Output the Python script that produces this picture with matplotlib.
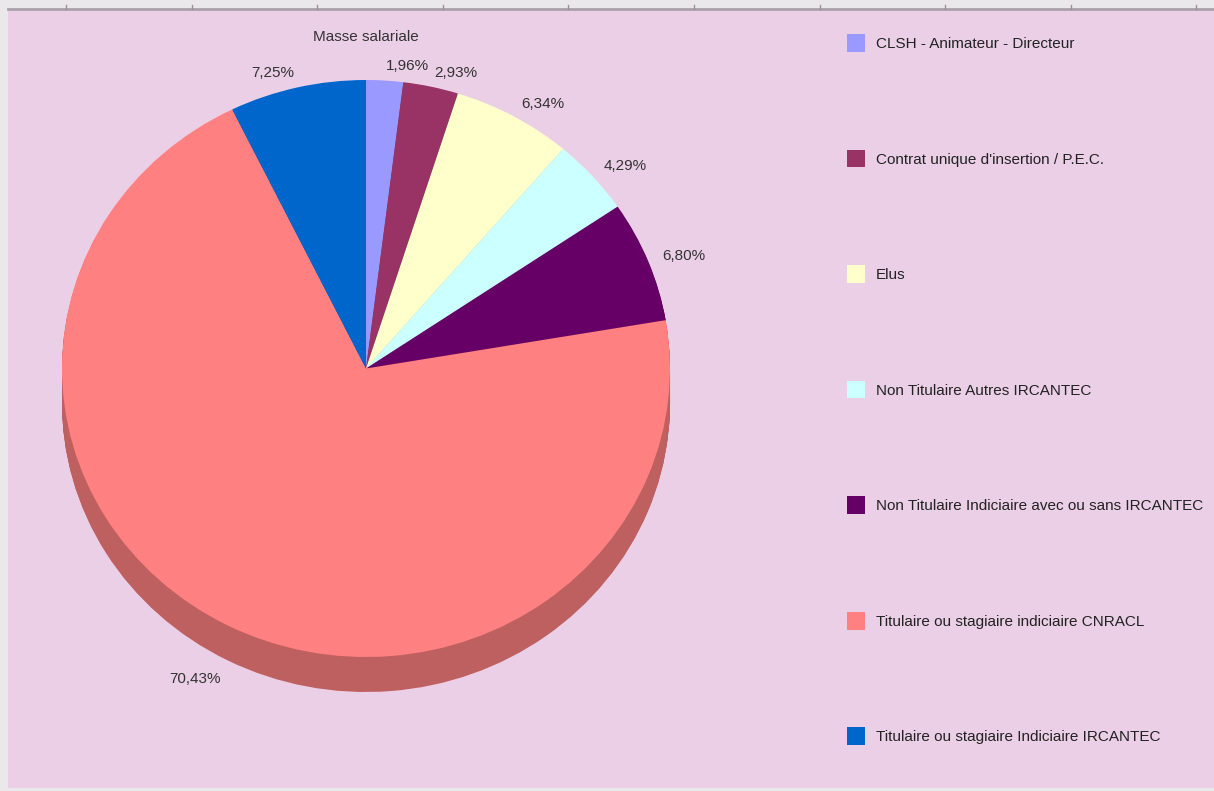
import numpy as np
import matplotlib
matplotlib.use("Agg")
import matplotlib.pyplot as plt
from matplotlib.colors import to_rgb
from matplotlib.patches import Rectangle

# data
TITLE = "Masse salariale"
categories = ["CLSH - Animateur - Directeur",
              "Contrat unique d'insertion / P.E.C.",
              "Elus",
              "Non Titulaire Autres IRCANTEC",
              "Non Titulaire Indiciaire avec ou sans IRCANTEC",
              "Titulaire ou stagiaire indiciaire CNRACL",
              "Titulaire ou stagiaire Indiciaire IRCANTEC"]
shares = [1.96, 2.93, 6.34, 4.29, 6.80, 70.43, 7.25]
pct_labels = ["1,96%", "2,93%", "6,34%", "4,29%", "6,80%", "70,43%", "7,25%"]
colors = ["#9999ff", "#993366", "#ffffcc", "#ccffff", "#660066", "#ff8080", "#0066cc"]

W, H = 1214, 791
BG = "#ebcfe6"
plt.rcParams['font.family'] = ['Liberation Sans', 'DejaVu Sans']

fig = plt.figure(figsize=(W / 100, H / 100), dpi=100, facecolor="#ebe8eb")

# background in pixel coords (y down)
bg = fig.add_axes([0, 0, 1, 1])
bg.set_xlim(0, W)
bg.set_ylim(H, 0)
bg.axis("off")
bg.add_patch(Rectangle((8, 10), W, H - 13, facecolor=BG, edgecolor="none"))
bg.plot([8, W], [9, 9], color="#aaa2aa", lw=2)
for xt in np.arange(66, W, 125.6):
    bg.plot([xt, xt], [5, 9], color="#9a929a", lw=1)

# pie geometry (pixels)
cx, cy = 366, 368.5
rx, ry = 304, 288.5
depth = 35
k = rx / ry  # y data units per pixel

ax = fig.add_axes([0, 0, 1, 1])
ax.patch.set_alpha(0)
dark = [tuple(c * 0.75 for c in to_rgb(col)) for col in colors]
center_y = (H - cy) * k

# 3D side: stacked shadow pies
for off in np.linspace(depth, 1, 35):
    ax.pie(shares, colors=dark, startangle=90, counterclock=False, radius=rx,
           center=(cx, center_y - off * k), wedgeprops=dict(linewidth=0))

wedges, texts = ax.pie(shares, colors=colors, startangle=90, counterclock=False,
                       radius=rx, center=(cx, center_y), labels=pct_labels,
                       labeldistance=1.05, wedgeprops=dict(linewidth=0),
                       textprops=dict(fontsize=11, color="#333333"))
for t in texts:
    x, y = t.get_position()
    t.set_ha("left" if x > cx else "right")
    if y < center_y:
        t.set_position((x, y - (depth + 6) * k))

ax.set_aspect("auto")
ax.set_xlim(0, W)
ax.set_ylim(0, H * k)
ax.axis("off")

fig.text(cx / W, 1 - 37 / H, TITLE, ha="center", va="center",
         fontsize=11, color="#333333")

ax.legend(wedges, categories, loc="upper left",
          bbox_to_anchor=(847 / W, 1 - 34 / H), bbox_transform=fig.transFigure,
          frameon=False, borderpad=0, borderaxespad=0,
          handlelength=1.18, handleheight=1.42, handletextpad=0.72,
          labelspacing=6.395, fontsize=11, labelcolor="#222222")

fig.savefig("out.png", dpi=100, facecolor=fig.get_facecolor())
